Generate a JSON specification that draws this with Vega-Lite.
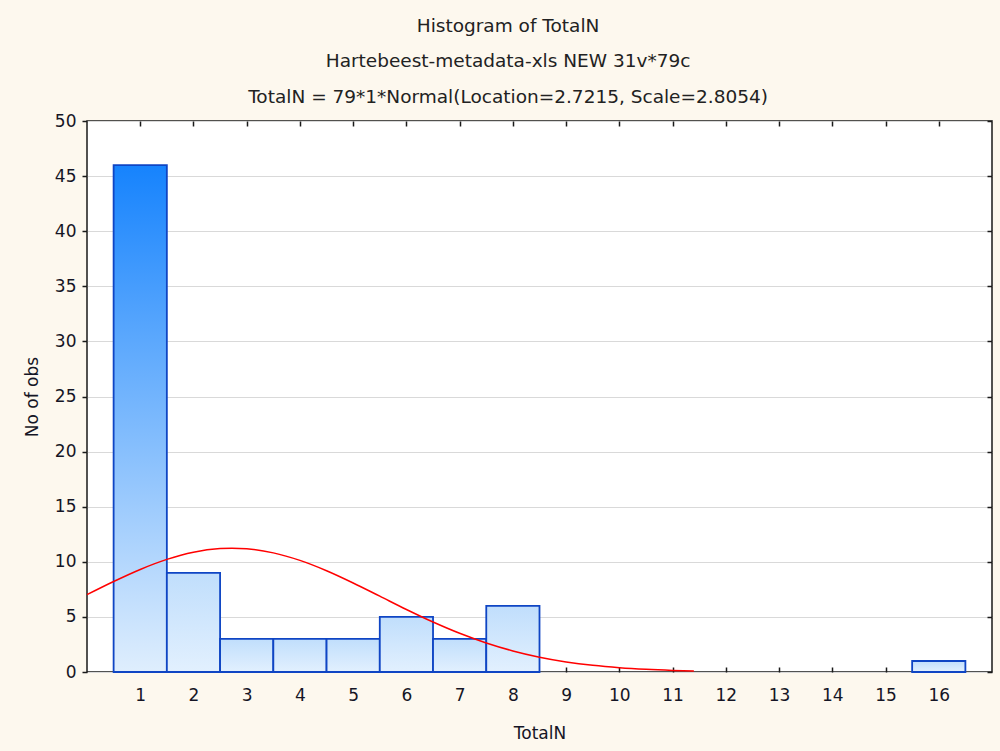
{
  "$schema": "https://vega.github.io/schema/vega-lite/v6.json",
  "width": 905,
  "height": 551,
  "autosize": {"type": "none"},
  "padding": {"left": 87, "top": 121, "right": 8, "bottom": 79},
  "background": "#fdf8ee",
  "title": {
    "text": ["Histogram of TotalN", "Hartebeest-metadata-xls NEW 31v*79c", "TotalN = 79*1*Normal(Location=2.7215, Scale=2.8054)"],
    "font": "DejaVu Sans",
    "fontSize": 18.5,
    "fontWeight": "normal",
    "color": "#222222",
    "lineHeight": 35.5,
    "offset": 6,
    "anchor": "middle",
    "frame": "bounds"
  },
  "config": {
    "view": {"stroke": "#1a1a1a", "strokeWidth": 1.5, "fill": "white"},
    "axis": {
      "labelFont": "DejaVu Sans",
      "labelFontSize": 17,
      "labelColor": "#151525",
      "titleFont": "DejaVu Sans",
      "titleFontSize": 17,
      "titleFontWeight": "normal",
      "titleColor": "#151525",
      "tickColor": "#1a1a1a",
      "tickWidth": 1.5,
      "domain": false,
      "gridColor": "#d9d9d9",
      "gridWidth": 1.2
    }
  },
  "resolve": {"axis": {"x": "independent", "y": "independent"}},
  "layer": [
    {
      "data": {
        "values": [
          {"bin_start": 0.5, "bin_end": 1.5, "TotalN": 1, "count": 46},
          {"bin_start": 1.5, "bin_end": 2.5, "TotalN": 2, "count": 9},
          {"bin_start": 2.5, "bin_end": 3.5, "TotalN": 3, "count": 3},
          {"bin_start": 3.5, "bin_end": 4.5, "TotalN": 4, "count": 3},
          {"bin_start": 4.5, "bin_end": 5.5, "TotalN": 5, "count": 3},
          {"bin_start": 5.5, "bin_end": 6.5, "TotalN": 6, "count": 5},
          {"bin_start": 6.5, "bin_end": 7.5, "TotalN": 7, "count": 3},
          {"bin_start": 7.5, "bin_end": 8.5, "TotalN": 8, "count": 6},
          {"bin_start": 15.5, "bin_end": 16.5, "TotalN": 16, "count": 1}
        ]
      },
      "mark": {"type": "bar", "stroke": "#0f45c4", "strokeWidth": 1.8},
      "encoding": {
        "x": {
          "field": "bin_start",
          "type": "quantitative",
          "scale": {"domain": [0, 17], "nice": false, "zero": false},
          "axis": {
            "orient": "bottom",
            "values": [1, 2, 3, 4, 5, 6, 7, 8, 9, 10, 11, 12, 13, 14, 15, 16],
            "tickSize": -5,
            "labelPadding": 20,
            "grid": false,
            "title": "TotalN",
            "titlePadding": 22
          }
        },
        "x2": {"field": "bin_end"},
        "y": {
          "field": "count",
          "type": "quantitative",
          "scale": {"domain": [0, 50], "nice": false},
          "axis": {
            "orient": "left",
            "values": [0, 5, 10, 15, 20, 25, 30, 35, 40, 45, 50],
            "tickSize": 5,
            "labelPadding": 6,
            "grid": true,
            "title": "No of obs",
            "titlePadding": 13
          }
        },
        "y2": {"datum": 0},
        "fill": {
          "condition": {
            "test": "datum.TotalN === 1",
            "value": {"gradient": "linear", "x1": 0, "y1": 0, "x2": 0, "y2": 1,
              "stops": [{"offset": 0, "color": "#1683fd"}, {"offset": 1, "color": "#dfeefd"}]}
          },
          "value": {"gradient": "linear", "x1": 0, "y1": 0, "x2": 0, "y2": 1,
            "stops": [{"offset": 0, "color": "#c0defc"}, {"offset": 1, "color": "#e2f0fe"}]}
        }
      }
    },
    {
      "data": {
        "values": [
          {"x": 0, "y": 7.018},
          {"x": 0.5, "y": 8.211},
          {"x": 1, "y": 9.306},
          {"x": 1.5, "y": 10.218},
          {"x": 2, "y": 10.869},
          {"x": 2.5, "y": 11.199},
          {"x": 2.7215, "y": 11.234},
          {"x": 3, "y": 11.179},
          {"x": 3.5, "y": 10.81},
          {"x": 4, "y": 10.126},
          {"x": 4.5, "y": 9.189},
          {"x": 5, "y": 8.078},
          {"x": 5.5, "y": 6.879},
          {"x": 6, "y": 5.675},
          {"x": 6.5, "y": 4.535},
          {"x": 7, "y": 3.511},
          {"x": 7.5, "y": 2.633},
          {"x": 8, "y": 1.913},
          {"x": 8.5, "y": 1.347},
          {"x": 9, "y": 0.918},
          {"x": 9.5, "y": 0.606},
          {"x": 10, "y": 0.388},
          {"x": 10.5, "y": 0.2405},
          {"x": 11, "y": 0.1444},
          {"x": 11.4, "y": 0.0939}
        ]
      },
      "mark": {"type": "line", "color": "#ff0000", "strokeWidth": 1.5, "interpolate": "monotone"},
      "encoding": {
        "x": {
          "field": "x",
          "type": "quantitative",
          "scale": {"domain": [0, 17], "nice": false, "zero": false},
          "axis": {
            "orient": "top",
            "values": [1, 2, 3, 4, 5, 6, 7, 8, 9, 10, 11, 12, 13, 14, 15, 16],
            "tickSize": -5,
            "labels": false,
            "grid": false,
            "title": null
          }
        },
        "y": {
          "field": "y",
          "type": "quantitative",
          "scale": {"domain": [0, 50], "nice": false},
          "axis": {
            "orient": "right",
            "values": [0, 5, 10, 15, 20, 25, 30, 35, 40, 45, 50],
            "tickSize": -5,
            "labels": false,
            "grid": false,
            "title": null
          }
        }
      }
    }
  ]
}
